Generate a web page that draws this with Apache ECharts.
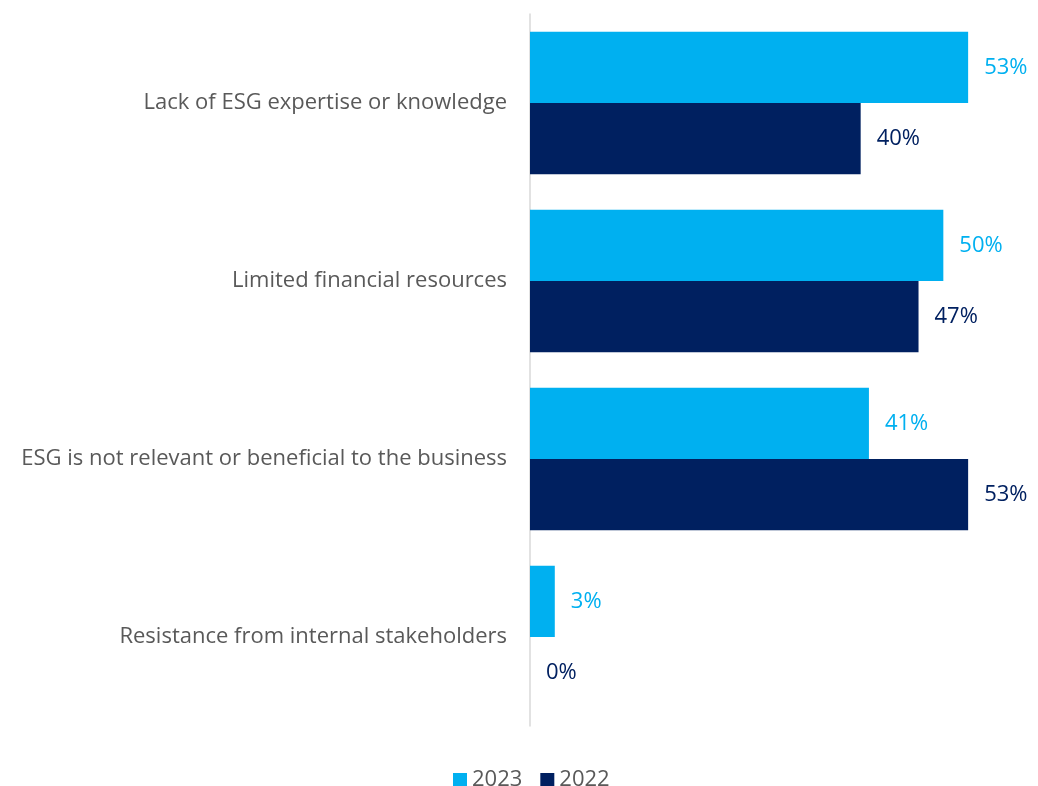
<!DOCTYPE html>
<html>
<head>
<meta charset="utf-8">
<script src="https://cdn.jsdelivr.net/npm/echarts@6/dist/echarts.min.js"></script>
<style>html,body{margin:0;padding:0;background:#fff;}#c{width:1038px;height:786px;}</style>
</head>
<body>
<div id="c"></div>
<script>
const categories = [
  "Lack of ESG expertise or knowledge",
  "Limited financial resources",
  "ESG is not relevant or beneficial to the business",
  "Resistance from internal stakeholders"
];
const values2023 = [53, 50, 41, 3];
const values2022 = [40, 47, 53, 0];
const seriesNames = ["2023", "2022"];

const chart = echarts.init(document.getElementById('c'));
const font = "'Open Sans', sans-serif";
chart.setOption({
  animation: false,
  textStyle: { fontFamily: font },
  grid: { left: 530, top: 14, height: 712, width: 496 },
  xAxis: {
    type: 'value', min: 0, max: 60,
    show: false
  },
  yAxis: {
    type: 'category', data: categories, inverse: true,
    axisLine: { show: true, lineStyle: { color: '#d9d9d9', width: 1.5 } },
    axisTick: { show: false },
    axisLabel: { color: '#595959', fontSize: 22, margin: 23, fontFamily: font }
  },
  legend: {
    left: 448, top: 764,
    icon: 'rect', itemWidth: 14, itemHeight: 14, itemGap: 18,
    textStyle: { color: '#595959', fontSize: 22, fontFamily: font },
    data: seriesNames
  },
  series: [
    {
      name: seriesNames[0], type: 'bar', data: values2023,
      barGap: '0%', barCategoryGap: '20%',
      itemStyle: { color: '#00B0F0' },
      label: { show: true, position: 'right', distance: 16, formatter: '{c}%', color: '#00B0F0', fontSize: 22, fontFamily: font }
    },
    {
      name: seriesNames[1], type: 'bar', data: values2022,
      barGap: '0%', barCategoryGap: '20%',
      itemStyle: { color: '#002060' },
      label: { show: true, position: 'right', distance: 16, formatter: '{c}%', color: '#002060', fontSize: 22, fontFamily: font }
    }
  ]
});
</script>
</body>
</html>
